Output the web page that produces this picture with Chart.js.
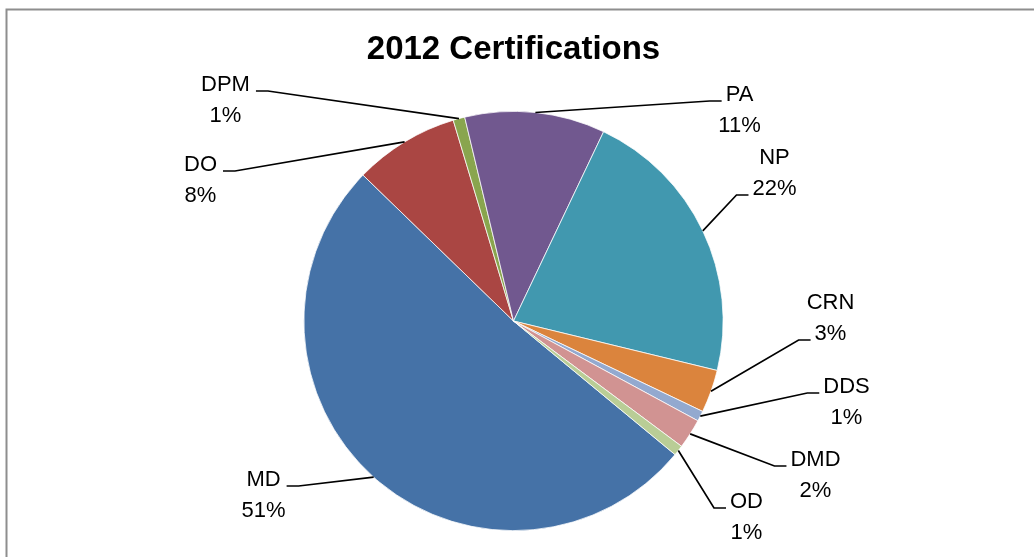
<!DOCTYPE html>
<html>
<head>
<meta charset="utf-8">
<script src="https://cdn.jsdelivr.net/npm/chart.js@4.4.1/dist/chart.umd.min.js"></script>
<style>
  html, body { margin: 0; padding: 0; background: #fff; }
  #wrap { width: 1034px; height: 557px; }
</style>
</head>
<body>
<div id="wrap"><canvas id="certChart" width="1034" height="557"></canvas></div>
<script>
// 2012 certifications, share of each
const categories = ['MD', 'DO', 'DPM', 'PA', 'NP', 'CRN', 'DDS', 'DMD', 'OD'];
const shares = [51.2, 8.1, 0.9, 10.8, 21.7, 3.3, 0.8, 2.3, 0.8];
const sliceColors = ['#4572A7', '#AA4643', '#89A54E', '#71588F', '#4198AF', '#DB843D', '#93A9CF', '#D19392', '#B9CD96'];

// where each data label sits, relative to the pie centre: [dx, dy of first line, row the leader meets]
const labelSpots = [
    [-250, 159, 0], [-313, -156, 0], [-288, -236, 0], [226, -226, 0], [261, -163, 1],
    [317, -18, 1], [333, 66, 0], [302, 139, 0], [233, 181, 0]
];

const labelFont = '22px "Liberation Sans", Arial, sans-serif';
const lineGap = 31;

const frame = {
    id: 'frame',
    beforeDraw(chart) {
        const c = chart.ctx;
        c.save();
        c.strokeStyle = '#8e8e8e';
        c.lineWidth = 2;
        c.strokeRect(6.5, 9.5, 1200, 1200);
        c.restore();
    }
};

const pieLabels = {
    id: 'pieLabels',
    afterDatasetsDraw(chart) {
        const c = chart.ctx;
        const arcs = chart.getDatasetMeta(0).data;
        const vals = chart.data.datasets[0].data;
        const total = vals.reduce((a, b) => a + b, 0);
        c.save();
        c.font = labelFont;
        c.fillStyle = '#000';
        c.strokeStyle = '#000';
        c.lineWidth = 1.7;
        c.textAlign = 'center';
        c.textBaseline = 'middle';
        arcs.forEach((arc, i) => {
            const p = arc.getProps(['x', 'y', 'startAngle', 'endAngle', 'outerRadius'], true);
            const mid = (p.startAngle + p.endAngle) / 2;
            const ex = p.x + Math.cos(mid) * p.outerRadius;
            const ey = p.y + Math.sin(mid) * p.outerRadius;
            const [dx, dy, row] = labelSpots[i];
            const tx = p.x + dx;
            const ty = p.y + dy;
            const lines = [chart.data.labels[i], Math.round(vals[i] / total * 100) + '%'];
            lines.forEach((t, k) => c.fillText(t, tx, ty + k * lineGap));

            // leader: from slice edge to an elbow, then short run to the text
            const w = c.measureText(lines[row]).width;
            const ly = ty + row * lineGap + 6;
            const onRight = tx > p.x;
            const endX = onRight ? tx - w / 2 - 4 : tx + w / 2 + 6;
            const elbowX = onRight ? endX - 12 : endX + 12;
            c.beginPath();
            c.moveTo(ex, ey);
            c.lineTo(elbowX, ly);
            c.lineTo(endX, ly);
            c.stroke();
        });
        c.restore();
    }
};

const ctx = document.getElementById('certChart').getContext('2d');

new Chart(ctx, {
    type: 'pie',
    data: {
        labels: categories,
        datasets: [{
            data: shares,
            backgroundColor: sliceColors,
            borderColor: '#ffffff',
            borderWidth: 0.75
        }]
    },
    options: {
        responsive: false,
        animation: false,
        rotation: 129.6,
        layout: { padding: { top: 0, bottom: 26, left: 0, right: 7 } },
        plugins: {
            legend: { display: false },
            tooltip: { enabled: false },
            title: {
                display: true,
                text: '2012 Certifications',
                color: '#000',
                font: { family: '"Liberation Sans", Arial, sans-serif', size: 33, weight: 'bold' },
                padding: { top: 30, bottom: 41.4 }
            }
        }
    },
    plugins: [frame, pieLabels]
});
</script>
</body>
</html>
